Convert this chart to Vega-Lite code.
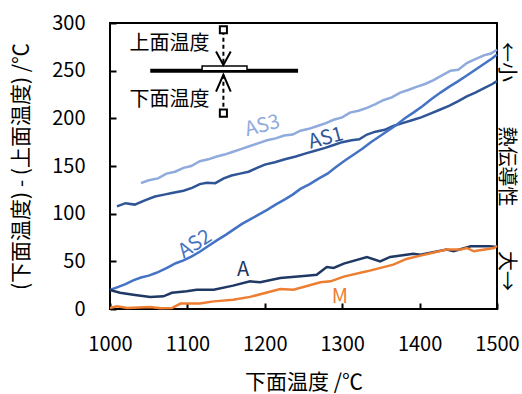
{
  "$schema": "https://vega.github.io/schema/vega-lite/v6.json",
  "width": 387,
  "height": 286,
  "autosize": {"type": "none"},
  "padding": {"left": 110, "top": 23, "right": 25, "bottom": 85},
  "config": {
    "font": "Noto Sans CJK JP",
    "view": {"stroke": "black", "strokeWidth": 2},
    "axis": {
      "domain": false,
      "grid": false,
      "tickColor": "black",
      "tickWidth": 2,
      "tickSize": -6,
      "labelFontSize": 20,
      "labelColor": "black",
      "labelPadding": 31,
      "labelFlush": false,
      "titleFontSize": 21,
      "titleFontWeight": "normal",
      "titleColor": "black"
    }
  },
  "datasets": {
    "series": [
      {"s": "AS3", "x": 1040, "y": 132}, {"s": "AS3", "x": 1050, "y": 135}, {"s": "AS3", "x": 1062, "y": 137}, {"s": "AS3", "x": 1073, "y": 142}, {"s": "AS3", "x": 1084, "y": 144}, {"s": "AS3", "x": 1095, "y": 148}, {"s": "AS3", "x": 1105, "y": 150}, {"s": "AS3", "x": 1116, "y": 155}, {"s": "AS3", "x": 1127, "y": 157}, {"s": "AS3", "x": 1138, "y": 160}, {"s": "AS3", "x": 1148, "y": 162}, {"s": "AS3", "x": 1159, "y": 165}, {"s": "AS3", "x": 1170, "y": 168}, {"s": "AS3", "x": 1181, "y": 171}, {"s": "AS3", "x": 1192, "y": 174}, {"s": "AS3", "x": 1203, "y": 177}, {"s": "AS3", "x": 1214, "y": 179}, {"s": "AS3", "x": 1225, "y": 182}, {"s": "AS3", "x": 1236, "y": 183}, {"s": "AS3", "x": 1246, "y": 187}, {"s": "AS3", "x": 1257, "y": 189}, {"s": "AS3", "x": 1268, "y": 192}, {"s": "AS3", "x": 1279, "y": 195}, {"s": "AS3", "x": 1289, "y": 198.5}, {"s": "AS3", "x": 1300, "y": 201}, {"s": "AS3", "x": 1310, "y": 206}, {"s": "AS3", "x": 1321, "y": 208}, {"s": "AS3", "x": 1332, "y": 211}, {"s": "AS3", "x": 1343, "y": 215}, {"s": "AS3", "x": 1353, "y": 219}, {"s": "AS3", "x": 1364, "y": 222}, {"s": "AS3", "x": 1375, "y": 227}, {"s": "AS3", "x": 1386, "y": 230}, {"s": "AS3", "x": 1396, "y": 233}, {"s": "AS3", "x": 1407, "y": 236}, {"s": "AS3", "x": 1418, "y": 240}, {"s": "AS3", "x": 1429, "y": 245}, {"s": "AS3", "x": 1440, "y": 250}, {"s": "AS3", "x": 1450, "y": 251}, {"s": "AS3", "x": 1461, "y": 258}, {"s": "AS3", "x": 1472, "y": 262}, {"s": "AS3", "x": 1483, "y": 266}, {"s": "AS3", "x": 1492, "y": 268}, {"s": "AS3", "x": 1500, "y": 272},
      {"s": "AS1", "x": 1009, "y": 107.7}, {"s": "AS1", "x": 1020, "y": 111}, {"s": "AS1", "x": 1032, "y": 109.5}, {"s": "AS1", "x": 1045, "y": 114}, {"s": "AS1", "x": 1058, "y": 118}, {"s": "AS1", "x": 1070, "y": 120}, {"s": "AS1", "x": 1080, "y": 121.7}, {"s": "AS1", "x": 1095, "y": 124}, {"s": "AS1", "x": 1106, "y": 127}, {"s": "AS1", "x": 1116, "y": 131}, {"s": "AS1", "x": 1125, "y": 132.5}, {"s": "AS1", "x": 1136, "y": 132}, {"s": "AS1", "x": 1147, "y": 137}, {"s": "AS1", "x": 1157, "y": 140}, {"s": "AS1", "x": 1168, "y": 142}, {"s": "AS1", "x": 1179, "y": 144}, {"s": "AS1", "x": 1190, "y": 148}, {"s": "AS1", "x": 1200, "y": 151.5}, {"s": "AS1", "x": 1213, "y": 154}, {"s": "AS1", "x": 1226, "y": 157}, {"s": "AS1", "x": 1240, "y": 160}, {"s": "AS1", "x": 1252, "y": 163}, {"s": "AS1", "x": 1265, "y": 166}, {"s": "AS1", "x": 1278, "y": 169}, {"s": "AS1", "x": 1289, "y": 172}, {"s": "AS1", "x": 1300, "y": 175}, {"s": "AS1", "x": 1312, "y": 177}, {"s": "AS1", "x": 1322, "y": 178}, {"s": "AS1", "x": 1332, "y": 183}, {"s": "AS1", "x": 1343, "y": 186}, {"s": "AS1", "x": 1355, "y": 188}, {"s": "AS1", "x": 1366, "y": 192}, {"s": "AS1", "x": 1378, "y": 195}, {"s": "AS1", "x": 1390, "y": 198}, {"s": "AS1", "x": 1402, "y": 201}, {"s": "AS1", "x": 1414, "y": 205}, {"s": "AS1", "x": 1426, "y": 209}, {"s": "AS1", "x": 1438, "y": 213}, {"s": "AS1", "x": 1450, "y": 218}, {"s": "AS1", "x": 1461, "y": 223}, {"s": "AS1", "x": 1472, "y": 227}, {"s": "AS1", "x": 1484, "y": 232}, {"s": "AS1", "x": 1494, "y": 236}, {"s": "AS1", "x": 1500, "y": 239},
      {"s": "AS2", "x": 1000, "y": 20}, {"s": "AS2", "x": 1010, "y": 23}, {"s": "AS2", "x": 1020, "y": 26}, {"s": "AS2", "x": 1030, "y": 30}, {"s": "AS2", "x": 1040, "y": 33}, {"s": "AS2", "x": 1050, "y": 35}, {"s": "AS2", "x": 1060, "y": 38}, {"s": "AS2", "x": 1073, "y": 43}, {"s": "AS2", "x": 1085, "y": 48}, {"s": "AS2", "x": 1095, "y": 51}, {"s": "AS2", "x": 1105, "y": 55}, {"s": "AS2", "x": 1116, "y": 60}, {"s": "AS2", "x": 1127, "y": 66}, {"s": "AS2", "x": 1138, "y": 72}, {"s": "AS2", "x": 1150, "y": 78}, {"s": "AS2", "x": 1159, "y": 83}, {"s": "AS2", "x": 1170, "y": 89}, {"s": "AS2", "x": 1181, "y": 94}, {"s": "AS2", "x": 1192, "y": 99}, {"s": "AS2", "x": 1203, "y": 104}, {"s": "AS2", "x": 1215, "y": 110}, {"s": "AS2", "x": 1226, "y": 115}, {"s": "AS2", "x": 1236, "y": 120}, {"s": "AS2", "x": 1246, "y": 126}, {"s": "AS2", "x": 1258, "y": 131}, {"s": "AS2", "x": 1270, "y": 137}, {"s": "AS2", "x": 1281, "y": 142}, {"s": "AS2", "x": 1292, "y": 149}, {"s": "AS2", "x": 1304, "y": 156}, {"s": "AS2", "x": 1315, "y": 162}, {"s": "AS2", "x": 1326, "y": 168}, {"s": "AS2", "x": 1337, "y": 175}, {"s": "AS2", "x": 1348, "y": 181}, {"s": "AS2", "x": 1359, "y": 187}, {"s": "AS2", "x": 1370, "y": 193}, {"s": "AS2", "x": 1381, "y": 200}, {"s": "AS2", "x": 1392, "y": 206}, {"s": "AS2", "x": 1404, "y": 213}, {"s": "AS2", "x": 1415, "y": 220}, {"s": "AS2", "x": 1427, "y": 227}, {"s": "AS2", "x": 1438, "y": 233}, {"s": "AS2", "x": 1450, "y": 239}, {"s": "AS2", "x": 1461, "y": 245}, {"s": "AS2", "x": 1472, "y": 251}, {"s": "AS2", "x": 1483, "y": 257}, {"s": "AS2", "x": 1494, "y": 263}, {"s": "AS2", "x": 1500, "y": 267},
      {"s": "A", "x": 1000, "y": 20}, {"s": "A", "x": 1013, "y": 17}, {"s": "A", "x": 1030, "y": 15}, {"s": "A", "x": 1052, "y": 12.7}, {"s": "A", "x": 1069, "y": 13.3}, {"s": "A", "x": 1080, "y": 17}, {"s": "A", "x": 1099, "y": 18.6}, {"s": "A", "x": 1112, "y": 20.3}, {"s": "A", "x": 1134, "y": 20.3}, {"s": "A", "x": 1159, "y": 24.5}, {"s": "A", "x": 1181, "y": 29}, {"s": "A", "x": 1194, "y": 28}, {"s": "A", "x": 1220, "y": 32.6}, {"s": "A", "x": 1254, "y": 35}, {"s": "A", "x": 1267, "y": 36}, {"s": "A", "x": 1280, "y": 44}, {"s": "A", "x": 1289, "y": 43}, {"s": "A", "x": 1302, "y": 47.6}, {"s": "A", "x": 1332, "y": 54.6}, {"s": "A", "x": 1349, "y": 50}, {"s": "A", "x": 1362, "y": 54.6}, {"s": "A", "x": 1392, "y": 58}, {"s": "A", "x": 1401, "y": 57}, {"s": "A", "x": 1435, "y": 62.3}, {"s": "A", "x": 1444, "y": 60.5}, {"s": "A", "x": 1466, "y": 65.7}, {"s": "A", "x": 1491, "y": 65.7}, {"s": "A", "x": 1500, "y": 65},
      {"s": "M", "x": 1000, "y": 1}, {"s": "M", "x": 1009, "y": 2.8}, {"s": "M", "x": 1022, "y": 1}, {"s": "M", "x": 1052, "y": 2}, {"s": "M", "x": 1065, "y": 0.7}, {"s": "M", "x": 1080, "y": 1}, {"s": "M", "x": 1091, "y": 5.7}, {"s": "M", "x": 1116, "y": 5.7}, {"s": "M", "x": 1134, "y": 8}, {"s": "M", "x": 1159, "y": 9.8}, {"s": "M", "x": 1181, "y": 12.7}, {"s": "M", "x": 1220, "y": 21}, {"s": "M", "x": 1237, "y": 20.3}, {"s": "M", "x": 1272, "y": 28}, {"s": "M", "x": 1285, "y": 29}, {"s": "M", "x": 1302, "y": 34}, {"s": "M", "x": 1332, "y": 39.5}, {"s": "M", "x": 1366, "y": 46.5}, {"s": "M", "x": 1383, "y": 52.5}, {"s": "M", "x": 1401, "y": 56}, {"s": "M", "x": 1435, "y": 62.3}, {"s": "M", "x": 1453, "y": 62.3}, {"s": "M", "x": 1461, "y": 64}, {"s": "M", "x": 1470, "y": 60.5}, {"s": "M", "x": 1496, "y": 64}, {"s": "M", "x": 1500, "y": 66.4}
    ],
    "labels": [
      {"s": "AS3", "x": 1197, "y": 192},
      {"s": "AS1", "x": 1279, "y": 179},
      {"s": "AS2", "x": 1110, "y": 68},
      {"s": "A", "x": 1172, "y": 41},
      {"s": "M", "x": 1297, "y": 13}
    ],
    "bar": [{"x": 1052, "y": 250}, {"x": 1243, "y": 250}],
    "plate": [{"x": 1119, "x2": 1177, "y": 250, "y2": 255}],
    "dashes": [
      {"part": "top", "x": 1146.5, "y": 292}, {"part": "top", "x": 1146.5, "y": 256},
      {"part": "bottom", "x": 1146.5, "y": 245.7}, {"part": "bottom", "x": 1146.5, "y": 206}
    ],
    "arrows": [
      {"part": "down", "x": 1137, "y": 270}, {"part": "down", "x": 1146.5, "y": 256}, {"part": "down", "x": 1156, "y": 270},
      {"part": "up", "x": 1137, "y": 228}, {"part": "up", "x": 1146.5, "y": 245.7}, {"part": "up", "x": 1156, "y": 228}
    ],
    "probes": [{"x": 1146.5, "y": 293}, {"x": 1146.5, "y": 205.5}],
    "insetText": [
      {"t": "上面温度", "x": 1077, "y": 277.5},
      {"t": "下面温度", "x": 1077, "y": 219.5}
    ]
  },
  "encoding": {
    "x": {
      "field": "x", "type": "quantitative",
      "scale": {"domain": [1000, 1500], "nice": false, "zero": false},
      "axis": {"title": "下面温度 /℃", "values": [1000, 1100, 1200, 1300, 1400, 1500], "format": "d", "titlePadding": 17}
    },
    "y": {
      "field": "y", "type": "quantitative",
      "scale": {"domain": [0, 300], "nice": false},
      "axis": null
    }
  },
  "layer": [
    {
      "data": {"name": "series"},
      "mark": {"type": "line", "strokeWidth": 2.5},
      "encoding": {
        "y": {
          "field": "y", "type": "quantitative",
          "scale": {"domain": [0, 300], "nice": false},
          "axis": {"orient": "left", "title": "(下面温度) - (上面温度) /℃", "values": [0, 50, 100, 150, 200, 250, 300], "titlePadding": 20}
        },
        "color": {"field": "s", "type": "nominal", "legend": null,
          "scale": {"domain": ["AS3", "AS1", "AS2", "A", "M"], "range": ["#8FAADC", "#2F5597", "#4472C4", "#203864", "#ED7D31"]}},
        "detail": {"field": "s"}
      }
    },
    {
      "data": {"name": "labels"},
      "transform": [{"filter": "datum.s === 'AS3' || datum.s === 'AS1'"}],
      "mark": {"type": "text", "fontSize": 20, "angle": 345},
      "encoding": {"text": {"field": "s"}, "color": {"field": "s", "type": "nominal", "legend": null}}
    },
    {
      "data": {"name": "labels"},
      "transform": [{"filter": "datum.s === 'AS2'"}],
      "mark": {"type": "text", "fontSize": 20, "angle": 327},
      "encoding": {"text": {"field": "s"}, "color": {"field": "s", "type": "nominal", "legend": null}}
    },
    {
      "data": {"name": "labels"},
      "transform": [{"filter": "datum.s === 'A' || datum.s === 'M'"}],
      "mark": {"type": "text", "fontSize": 20},
      "encoding": {"text": {"field": "s"}, "color": {"field": "s", "type": "nominal", "legend": null}}
    },
    {
      "data": {"name": "bar"},
      "mark": {"type": "line", "color": "black", "strokeWidth": 4},
      "encoding": {}
    },
    {
      "data": {"name": "plate"},
      "mark": {"type": "rect", "fill": "white", "stroke": "black", "strokeWidth": 1.5},
      "encoding": {"x2": {"field": "x2"}, "y2": {"field": "y2"}}
    },
    {
      "data": {"name": "dashes"},
      "mark": {"type": "line", "color": "black", "strokeWidth": 2, "strokeDash": [4, 3]},
      "encoding": {"detail": {"field": "part"}}
    },
    {
      "data": {"name": "arrows"},
      "mark": {"type": "line", "color": "black", "strokeWidth": 2},
      "encoding": {"detail": {"field": "part"}, "order": {"field": "x"}}
    },
    {
      "data": {"name": "probes"},
      "mark": {"type": "point", "shape": "square", "size": 50, "filled": true, "fill": "white", "stroke": "black", "strokeWidth": 2, "opacity": 1},
      "encoding": {}
    },
    {
      "data": {"name": "insetText"},
      "mark": {"type": "text", "fontSize": 20, "color": "black"},
      "encoding": {
        "text": {"field": "t"},
        "y": {
          "field": "y", "type": "quantitative",
          "scale": {"domain": [0, 300], "nice": false},
          "axis": {"orient": "right", "title": "←小　　   熱伝導性　　   大→", "labels": false, "ticks": false, "domain": false, "grid": false, "titleAngle": 90, "titlePadding": -2, "titleFontSize": 20}
        }
      }
    }
  ]
}
